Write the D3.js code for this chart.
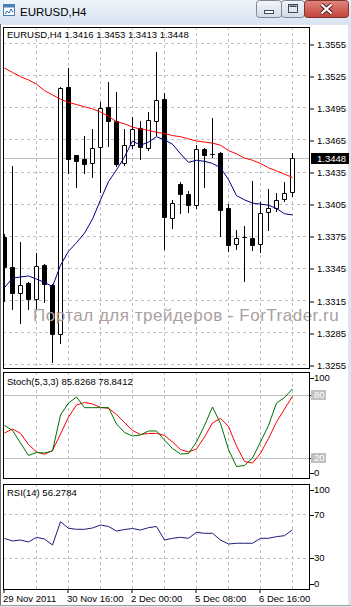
<!DOCTYPE html>
<html>
<head>
<meta charset="utf-8">
<script src="https://cdn.jsdelivr.net/npm/d3@7"></script>
<style>
  html, body { margin: 0; padding: 0; background: #fff; overflow: hidden; }
  svg { display: block; }
  text { font-family: "Liberation Sans", Arial, sans-serif; }
</style>
</head>
<body>
<div id="chart"></div>
<script>
// ---------------------------------------------------------------
// data (EURUSD H4)
const times = [
  '2011-11-29 08:00', '2011-11-29 12:00', '2011-11-29 16:00', '2011-11-29 20:00',
  '2011-11-30 00:00', '2011-11-30 04:00', '2011-11-30 08:00', '2011-11-30 12:00',
  '2011-11-30 16:00', '2011-11-30 20:00', '2011-12-01 00:00', '2011-12-01 04:00',
  '2011-12-01 08:00', '2011-12-01 12:00', '2011-12-01 16:00', '2011-12-01 20:00',
  '2011-12-02 00:00', '2011-12-02 04:00', '2011-12-02 08:00', '2011-12-02 12:00',
  '2011-12-02 16:00', '2011-12-02 20:00', '2011-12-05 00:00', '2011-12-05 04:00',
  '2011-12-05 08:00', '2011-12-05 12:00', '2011-12-05 16:00', '2011-12-05 20:00',
  '2011-12-06 00:00', '2011-12-06 04:00', '2011-12-06 08:00', '2011-12-06 12:00',
  '2011-12-06 16:00', '2011-12-06 20:00', '2011-12-07 00:00', '2011-12-07 04:00',
  '2011-12-07 08:00'
]

const open = [1.3374, 1.3346, 1.3322, 1.3331, 1.3316, 1.3348, 1.3329, 1.3283, 1.3514, 1.3450,
  1.3447, 1.3443, 1.3458, 1.3495, 1.3482, 1.3443, 1.3460, 1.3476, 1.3457, 1.3482,
  1.3503, 1.3392, 1.3423, 1.3414, 1.3404, 1.3456, 1.3451, 1.3452, 1.3401, 1.3367,
  1.3374, 1.3373, 1.3367, 1.3397, 1.3401, 1.3409, 1.3416]
const high = [1.3377, 1.3441, 1.3370, 1.3332, 1.3359, 1.3349, 1.3330, 1.3514, 1.3532, 1.3451,
  1.3469, 1.3475, 1.3500, 1.3519, 1.3510, 1.3475, 1.3486, 1.3483, 1.3491, 1.3547,
  1.3509, 1.3409, 1.3426, 1.3417, 1.3460, 1.3457, 1.3485, 1.3454, 1.3405, 1.3381,
  1.3385, 1.3427, 1.3407, 1.3419, 1.3415, 1.3426, 1.3453]
const low = [1.3315, 1.3307, 1.3294, 1.3307, 1.3308, 1.3314, 1.3258, 1.3275, 1.3434, 1.3421,
  1.3434, 1.3430, 1.3416, 1.3459, 1.3441, 1.3442, 1.3457, 1.3447, 1.3456, 1.3470,
  1.3363, 1.3383, 1.3397, 1.3398, 1.3401, 1.3421, 1.3449, 1.3375, 1.3361, 1.3363,
  1.3333, 1.3362, 1.3360, 1.3381, 1.3399, 1.3408, 1.3413]
const close = [1.3346, 1.3322, 1.3329, 1.3316, 1.3347, 1.3330, 1.3283, 1.3513, 1.3447, 1.3445,
  1.3442, 1.3457, 1.3494, 1.3482, 1.3442, 1.3460, 1.3475, 1.3458, 1.3483, 1.3502,
  1.3393, 1.3406, 1.3414, 1.3404, 1.3456, 1.3450, 1.3451, 1.3399, 1.3366, 1.3373,
  1.3374, 1.3366, 1.3396, 1.3401, 1.3408, 1.3415, 1.3448]

// moving averages
const maSlow = [1.3532, 1.3528, 1.3524, 1.3521, 1.3517, 1.3511, 1.3507, 1.3503, 1.3500, 1.3498,
  1.3496, 1.3494, 1.3491, 1.3487, 1.3482, 1.3480, 1.3477, 1.3475, 1.3474, 1.3472,
  1.3471, 1.3469, 1.3468, 1.3466, 1.3464, 1.3463, 1.3462, 1.3460, 1.3455, 1.3452,
  1.3448, 1.3446, 1.3443, 1.3439, 1.3436, 1.3433, 1.3430]
const maFast = [1.3327, 1.3336, 1.3337, 1.3338, 1.3335, 1.3332, 1.3328, 1.3348, 1.3361, 1.3369,
  1.3378, 1.3391, 1.3409, 1.3426, 1.3437, 1.3449, 1.3464, 1.3460, 1.3463, 1.3468,
  1.3465, 1.3461, 1.3452, 1.3444, 1.3446, 1.3445, 1.3443, 1.3439, 1.3428, 1.3413,
  1.3409, 1.3406, 1.3405, 1.3404, 1.3401, 1.3396, 1.3395]

// Stochastic (5,3,3)
const stochK = [51.1, 46.4, 34.5, 22.7, 25.5, 25.0, 26.9, 61.0, 72.4, 78.1,
  68.0, 68.0, 68.0, 68.0, 52.5, 44.5, 41.1, 42.1, 45.9, 45.9,
  37.3, 29.3, 24.1, 24.5, 35.5, 51.1, 68.6, 53.0, 28.3, 12.2,
  13.2, 20.3, 35.5, 51.1, 72.4, 77.6, 85.8268]
const stochD = [44.0, 47.8, 43.7, 33.1, 26.0, 23.8, 27.4, 43.0, 59.1, 70.5,
  72.9, 71.5, 68.2, 67.4, 61.5, 53.9, 46.4, 42.6, 43.5, 43.7,
  41.6, 35.5, 28.3, 26.0, 28.8, 40.2, 53.5, 57.9, 50.1, 31.7,
  17.0, 15.5, 24.7, 38.8, 54.4, 66.7, 78.8412]

// RSI (14)
const rsi = [48.3, 46.0, 46.9, 45.1, 49.4, 47.8, 42.3, 63.8, 57.7, 56.8,
  56.8, 58.0, 60.8, 59.4, 55.2, 56.6, 57.5, 56.1, 58.3, 59.4,
  46.9, 48.5, 49.4, 48.5, 54.0, 53.1, 53.1, 46.9, 43.2, 43.9,
  43.9, 43.9, 48.5, 48.5, 50.0, 50.9, 56.2784]

const priceTicks = [1.3555, 1.3525, 1.3495, 1.3465, 1.3435, 1.3405, 1.3375, 1.3345, 1.3315, 1.3285, 1.3255]
const stochLevels = [20, 80]
const stochLabels = [100, 80, 20, 0]
const rsiLevels = [30, 70]
const rsiLabels = [100, 70, 30, 0]

const symbol = 'EURUSD,H4'
const watermark = 'Портал для трейдеров - ForTrader.ru'

// ---------------------------------------------------------------
// layout
const width = 351, height = 607
const frameLeft = 3, frameRight = 310
const panels = {
  main:  {top: 27, bottom: 369},
  stoch: {top: 372, bottom: 479},
  rsi:   {top: 484, bottom: 590}
}
const gridColor = '#c0c0c0'
const crisp = v => Math.round(v - 0.5) + 0.5
const last = times.length - 1

const svg = d3.select('#chart').append('svg')
  .attr('width', width)
  .attr('height', height)

const parseTime = d3.timeParse('%Y-%m-%d %H:%M')

const x = d3.scalePoint()
  .domain(times)
  .range([4.5, 292.5])

const yPrice = d3.scaleLinear().domain([1.3255, 1.3555]).range([364.8, 43.5])
const yStoch = d3.scaleLinear().domain([0, 100]).range([479.4, 373.9])
const yRsi = d3.scaleLinear().domain([0, 100]).range([590.8, 482.5])

// grid every 4 bars, time labels every 8 bars
const gridTimes = times.filter((_, i) => i > 0 && i % 4 === 0)
const labelTimes = times.filter((_, i) => i % 8 === 0)

drawWindow()
drawMain()
drawStoch()
drawRsi()
drawTimeAxis()

//----------------------------------------------------------
// window chrome
function drawWindow() {
  const defs = svg.append('defs')
  const grad = (id, a, b) => {
    const g = defs.append('linearGradient').attr('id', id)
      .attr('x1', 0).attr('y1', 0).attr('x2', 0).attr('y2', 1)
    g.append('stop').attr('offset', '0%').attr('stop-color', a)
    g.append('stop').attr('offset', '100%').attr('stop-color', b)
  }
  grad('title-grad', '#eef3f9', '#d9e4f1')
  grad('btn-grad', '#f4f6f9', '#d3dbe6')
  grad('close-grad', '#e0877d', '#c4413a')

  svg.append('rect')
    .attr('width', width).attr('height', height)
    .attr('fill', '#dce6f2')

  svg.append('rect')
    .attr('width', width).attr('height', 24)
    .attr('fill', 'url(#title-grad)')

  // chart client area
  svg.append('rect')
    .attr('x', 1).attr('y', 25)
    .attr('width', 347).attr('height', 580)
    .attr('fill', '#fff')
  svg.append('line')
    .attr('x1', 0.5).attr('x2', 0.5).attr('y1', 24).attr('y2', 606)
    .attr('stroke', '#6b6b6b')
  svg.append('line')
    .attr('x1', 0).attr('x2', width).attr('y1', 605.5).attr('y2', 605.5)
    .attr('stroke', '#a0a0a0')

  // icon
  const icon = svg.append('g').attr('transform', 'translate(3,4)')
  icon.append('rect')
    .attr('x', 0.5).attr('y', 0.5).attr('width', 11).attr('height', 11)
    .attr('fill', '#fff').attr('stroke', '#4d7fb8')
  icon.append('rect')
    .attr('x', 0.5).attr('y', 0.5).attr('width', 11).attr('height', 3)
    .attr('fill', '#4d7fb8')
  icon.append('path')
    .attr('d', 'M2,10 L4,7 L6,9 L8,5 L10,8')
    .attr('fill', 'none').attr('stroke', '#2c62a8')

  svg.append('text')
    .attr('x', 20).attr('y', 12)
    .attr('dy', '0.35em')
    .style('font-size', '11.5px')
    .style('fill', '#000')
    .text(symbol)

  // caption buttons
  const buttons = [
    {x: 256.5, w: 25, kind: 'min'},
    {x: 281.5, w: 23, kind: 'max'},
    {x: 304.5, w: 44, kind: 'close'}
  ]
  const btn = svg.selectAll('g.btn')
    .data(buttons)
    .join('g')
    .attr('class', 'btn')
    .attr('transform', d => `translate(${d.x},0.5)`)

  btn.append('rect')
    .attr('width', d => d.w).attr('height', 17).attr('rx', 3)
    .attr('fill', d => d.kind === 'close' ? 'url(#close-grad)' : 'url(#btn-grad)')
    .attr('stroke', d => d.kind === 'close' ? '#7d3430' : '#7a889b')

  btn.filter(d => d.kind === 'min').append('rect')
    .attr('x', 8).attr('y', 10).attr('width', 9).attr('height', 3)
    .attr('fill', '#fff').attr('stroke', '#3c4a5c')
  btn.filter(d => d.kind === 'max').append('rect')
    .attr('x', 7).attr('y', 4).attr('width', 9).attr('height', 8)
    .attr('fill', 'none').attr('stroke', '#3c4a5c').attr('stroke-width', 1)
  btn.filter(d => d.kind === 'max').append('rect')
    .attr('x', 8).attr('y', 5).attr('width', 7).attr('height', 1.5)
    .attr('fill', '#3c4a5c')
  btn.filter(d => d.kind === 'close').append('path')
    .attr('d', 'M17,4 L27,13 M27,4 L17,13')
    .attr('stroke', '#4a1c1a').attr('stroke-width', 4)
  btn.filter(d => d.kind === 'close').append('path')
    .attr('d', 'M17,4 L27,13 M27,4 L17,13')
    .attr('stroke', '#fff').attr('stroke-width', 2.2)
}

//----------------------------------------------------------
// shared panel helpers
function panelGroup(name) {
  const p = panels[name]
  svg.append('clipPath').attr('id', `clip-${name}`)
    .append('rect')
    .attr('x', frameLeft).attr('y', p.top)
    .attr('width', frameRight - frameLeft).attr('height', p.bottom - p.top)

  const g = svg.append('g').attr('id', `panel-${name}`)
  const inner = g.append('g').attr('clip-path', `url(#clip-${name})`)

  // vertical dashed grid
  inner.selectAll('line.vgrid')
    .data(gridTimes)
    .join('line')
    .attr('class', 'vgrid')
    .attr('x1', d => crisp(x(d))).attr('x2', d => crisp(x(d)))
    .attr('y1', p.top).attr('y2', p.bottom)
    .attr('stroke', gridColor)
    .attr('stroke-dasharray', '3,3')
  return {g, inner, p}
}

function panelBorder(g, p) {
  g.append('rect')
    .attr('x', frameLeft + 0.5).attr('y', p.top + 0.5)
    .attr('width', frameRight - frameLeft - 1).attr('height', p.bottom - p.top - 1)
    .attr('fill', 'none')
    .attr('stroke', '#000')
}

function seriesLine(inner, values, y, color) {
  inner.append('path')
    .datum(values)
    .attr('fill', 'none')
    .attr('stroke', color)
    .attr('stroke-width', 1)
    .attr('d', d3.line().x((_, i) => x(times[i])).y(v => y(v)))
}

function sideLabels(g, p, values, y, boxed) {
  const clampY = v => Math.max(p.top + 6, Math.min(p.bottom - 6, y(v)))
  const lab = g.selectAll(null)
    .data(values)
    .join('g')
    .attr('transform', v => `translate(${frameRight},${Math.round(clampY(v))})`)
  lab.append('line')
    .attr('x1', 0).attr('x2', 4).attr('y1', 0.5).attr('y2', 0.5)
    .attr('stroke', '#000')
  lab.filter(v => boxed.includes(v)).append('rect')
    .attr('x', 1).attr('y', -5).attr('width', 15).attr('height', 10)
    .attr('fill', gridColor)
  lab.append('text')
    .attr('x', 4).attr('dy', '0.35em')
    .style('font-size', '9.5px')
    .style('fill', v => boxed.includes(v) ? '#fff' : '#000')
    .text(v => v)
}

//----------------------------------------------------------
// main price panel
function drawMain() {
  const {g, inner, p} = panelGroup('main')

  inner.selectAll('line.hgrid')
    .data(priceTicks)
    .join('line')
    .attr('class', 'hgrid')
    .attr('x1', frameLeft).attr('x2', frameRight)
    .attr('y1', d => crisp(yPrice(d))).attr('y2', d => crisp(yPrice(d)))
    .attr('stroke', gridColor)
    .attr('stroke-dasharray', '3,3')

  // bid line
  inner.append('line')
    .attr('x1', frameLeft).attr('x2', frameRight)
    .attr('y1', crisp(yPrice(close[last]))).attr('y2', crisp(yPrice(close[last])))
    .attr('stroke', gridColor)

  // watermark
  g.append('text')
    .attr('x', 33).attr('y', 321)
    .style('font-size', '17px')
    .style('letter-spacing', '0.5px')
    .style('fill', '#aaa0a0')
    .text(watermark)

  // candles
  const idx = d3.range(times.length)
  const candle = inner.selectAll('g.candle')
    .data(idx)
    .join('g')
    .attr('class', 'candle')

  candle.append('line')
    .attr('x1', i => x(times[i])).attr('x2', i => x(times[i]))
    .attr('y1', i => Math.round(yPrice(high[i])))
    .attr('y2', i => Math.round(yPrice(low[i])) + 1)
    .attr('stroke', '#000')

  candle.append('path')
    .attr('d', i => {
      const top = crisp(yPrice(Math.max(open[i], close[i])))
      const bot = crisp(yPrice(Math.min(open[i], close[i])))
      const cx = x(times[i])
      return `M${cx - 2},${top}h4v${bot - top}h-4z`
    })
    .attr('fill', i => close[i] >= open[i] ? '#fff' : '#000')
    .attr('stroke', '#000')

  seriesLine(inner, maSlow, yPrice, '#ff0000')
  seriesLine(inner, maFast, yPrice, '#000080')

  panelBorder(g, p)

  // title
  g.append('text')
    .attr('x', 7).attr('y', 35).attr('dy', '0.35em')
    .style('font-size', '9.5px')
    .text(`${symbol}  ${open[last].toFixed(4)} ${high[last].toFixed(4)} ${low[last].toFixed(4)} ${close[last].toFixed(4)}`)

  // price axis
  const axis = g.append('g')
    .attr('transform', `translate(${frameRight},0.5)`)
    .call(d3.axisRight(yPrice).tickValues(priceTicks).tickSize(4).tickPadding(3)
      .tickFormat(d3.format('.4f')))
  axis.select('.domain').remove()
  axis.selectAll('line').attr('transform', d => `translate(0,${Math.round(yPrice(d)) - yPrice(d)})`)
  axis.selectAll('text')
    .style('font-family', '"Liberation Sans", Arial, sans-serif')
    .style('font-size', '9.5px')
    .style('fill', '#000')

  // current price marker
  const bid = g.append('g')
    .attr('transform', `translate(${frameRight},${Math.round(yPrice(close[last]))})`)
  bid.append('rect')
    .attr('x', 1).attr('y', -5).attr('width', 38).attr('height', 11)
    .attr('fill', '#000')
  bid.append('text')
    .attr('x', 7).attr('y', 0.5).attr('dy', '0.35em')
    .style('font-size', '9.5px')
    .style('fill', '#fff')
    .text(close[last].toFixed(4))
}

//----------------------------------------------------------
// stochastic panel
function drawStoch() {
  const {g, inner, p} = panelGroup('stoch')

  inner.selectAll('line.level')
    .data(stochLevels)
    .join('line')
    .attr('class', 'level')
    .attr('x1', frameLeft).attr('x2', frameRight)
    .attr('y1', d => crisp(yStoch(d))).attr('y2', d => crisp(yStoch(d)))
    .attr('stroke', gridColor)

  seriesLine(inner, stochD, yStoch, '#ff0000')
  seriesLine(inner, stochK, yStoch, '#007000')

  panelBorder(g, p)

  g.append('text')
    .attr('x', 7).attr('y', 382).attr('dy', '0.35em')
    .style('font-size', '9.5px')
    .text(`Stoch(5,3,3) ${stochK[last].toFixed(4)} ${stochD[last].toFixed(4)}`)

  sideLabels(g, p, stochLabels, yStoch, stochLevels)
}

//----------------------------------------------------------
// RSI panel
function drawRsi() {
  const {g, inner, p} = panelGroup('rsi')

  inner.selectAll('line.level')
    .data(rsiLevels)
    .join('line')
    .attr('class', 'level')
    .attr('x1', frameLeft).attr('x2', frameRight)
    .attr('y1', d => crisp(yRsi(d))).attr('y2', d => crisp(yRsi(d)))
    .attr('stroke', gridColor)
    .attr('stroke-dasharray', '3,3')

  seriesLine(inner, rsi, yRsi, '#1c1c7a')

  panelBorder(g, p)

  g.append('text')
    .attr('x', 7).attr('y', 493).attr('dy', '0.35em')
    .style('font-size', '9.5px')
    .text(`RSI(14) ${rsi[last].toFixed(4)}`)

  sideLabels(g, p, rsiLabels, yRsi, [])
}

//----------------------------------------------------------
// time axis
function drawTimeAxis() {
  const fmtFirst = d3.timeFormat('%-d %b %Y')
  const fmt = d3.timeFormat('%-d %b %H:%M')

  const axis = svg.append('g')
    .attr('transform', `translate(-1,${panels.rsi.bottom - 1})`)
    .call(d3.axisBottom(x).tickValues(labelTimes).tickSize(4).tickPadding(2)
      .tickFormat((d, i) => i === 0 ? fmtFirst(parseTime(d)) : fmt(parseTime(d))))
  axis.select('.domain').remove()
  axis.selectAll('line').attr('stroke', '#000')
  axis.selectAll('text')
    .attr('text-anchor', 'start')
    .attr('dx', -1)
    .style('font-family', '"Liberation Sans", Arial, sans-serif')
    .style('font-size', '9.5px')
    .style('fill', '#000')
}
</script>
</body>
</html>
